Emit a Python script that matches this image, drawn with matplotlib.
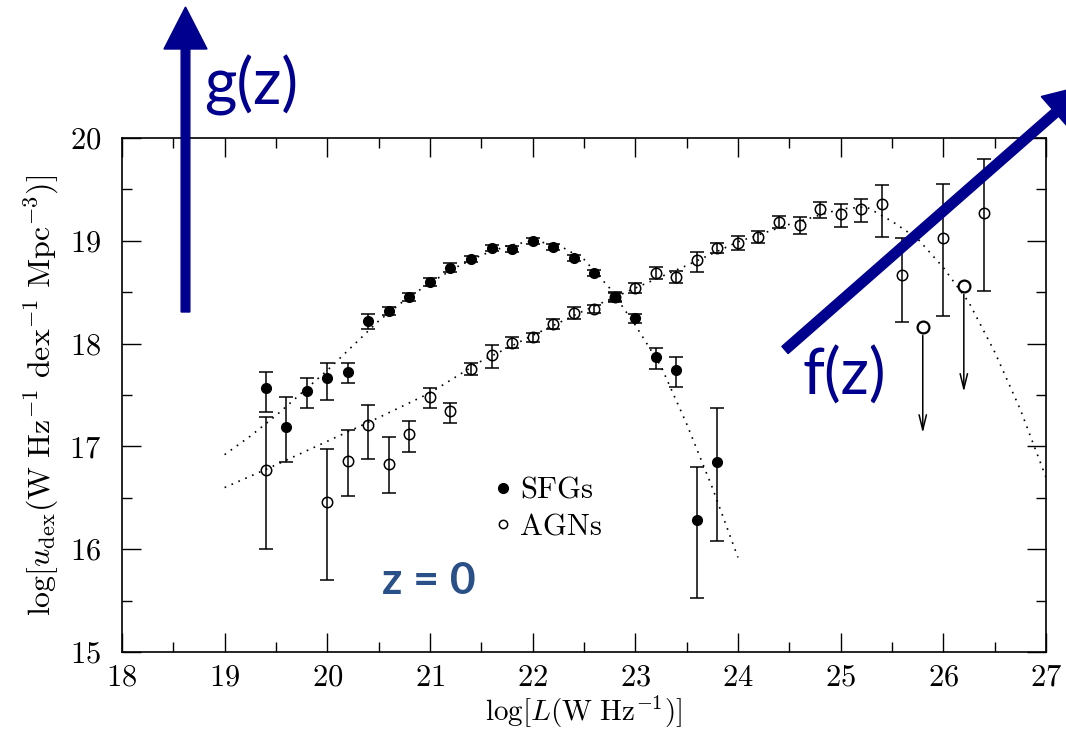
import matplotlib
matplotlib.use("Agg")
import matplotlib.pyplot as plt
from matplotlib.lines import Line2D
from matplotlib.patches import FancyArrow

# ------------------------------------------------------
# Local radio luminosity densities (z = 0)
# ------------------------------------------------------

# star-forming galaxies
sfg_x = [19.4, 19.6, 19.8, 20.0, 20.2, 20.4, 20.6, 20.8, 21.0, 21.2, 21.4, 21.6,
         21.8, 22.0, 22.2, 22.4, 22.6, 22.8, 23.0, 23.2, 23.4, 23.6, 23.8]
sfg_y = [17.57, 17.19, 17.54, 17.67, 17.72, 18.22, 18.32, 18.45, 18.60, 18.74, 18.82, 18.93,
         18.92, 19.00, 18.94, 18.83, 18.69, 18.45, 18.25, 17.87, 17.74, 16.28, 16.85]
sfg_lo = [0.24, 0.34, 0.17, 0.22, 0.10, 0.08, 0.04, 0.04, 0.04, 0.04, 0.03, 0.03,
          0.03, 0.03, 0.03, 0.03, 0.03, 0.04, 0.05, 0.12, 0.16, 0.75, 0.77]
sfg_hi = [0.15, 0.29, 0.13, 0.14, 0.09, 0.07, 0.04, 0.04, 0.04, 0.04, 0.03, 0.03,
          0.03, 0.03, 0.03, 0.03, 0.03, 0.04, 0.04, 0.09, 0.13, 0.52, 0.52]

# AGNs
agn_x = [19.4, 20.0, 20.2, 20.4, 20.6, 20.8, 21.0, 21.2, 21.4, 21.6, 21.8, 22.0,
         22.2, 22.4, 22.6, 22.8, 23.0, 23.2, 23.4, 23.6, 23.8, 24.0, 24.2, 24.4,
         24.6, 24.8, 25.0, 25.2, 25.4, 25.6, 26.0, 26.4]
agn_y = [16.77, 16.46, 16.86, 17.21, 16.83, 17.12, 17.48, 17.34, 17.75, 17.89, 18.01, 18.06,
         18.19, 18.30, 18.34, 18.45, 18.54, 18.69, 18.65, 18.81, 18.93, 18.98, 19.04, 19.18,
         19.15, 19.31, 19.26, 19.31, 19.36, 18.67, 19.03, 19.27]
agn_lo = [0.77, 0.76, 0.34, 0.33, 0.28, 0.17, 0.11, 0.11, 0.06, 0.13, 0.05, 0.04,
          0.05, 0.06, 0.04, 0.05, 0.05, 0.06, 0.06, 0.11, 0.05, 0.07, 0.06, 0.06,
          0.08, 0.09, 0.13, 0.13, 0.32, 0.46, 0.76, 0.76]
agn_hi = [0.52, 0.51, 0.30, 0.19, 0.26, 0.13, 0.09, 0.08, 0.06, 0.10, 0.05, 0.04,
          0.05, 0.06, 0.04, 0.05, 0.05, 0.06, 0.06, 0.08, 0.05, 0.07, 0.06, 0.06,
          0.08, 0.07, 0.10, 0.10, 0.18, 0.36, 0.52, 0.53]

# AGN upper limits
lim_x = [25.8, 26.2]
lim_y = [18.16, 18.56]
lim_drop = [1.03, 1.03]

# fitted luminosity functions (dotted)
sfg_fit_x = [19.0, 19.25, 19.5, 19.75, 20.0, 20.25, 20.5, 20.75, 21.0, 21.25, 21.5,
             21.75, 22.0, 22.25, 22.5, 22.75, 23.0, 23.25, 23.5, 23.75, 24.0]
sfg_fit_y = [16.92, 17.10, 17.30, 17.52, 17.74, 17.98, 18.22, 18.42, 18.59, 18.74, 18.86,
             18.95, 19.00, 18.96, 18.82, 18.54, 18.18, 17.78, 17.22, 16.60, 15.92]

agn_fit_x = [19.0, 19.5, 20.0, 20.5, 21.0, 21.5, 22.0, 22.5, 23.0, 23.5, 24.0, 24.5,
             25.0, 25.25, 25.5, 25.75, 26.0, 26.25, 26.5, 26.75, 27.0]
agn_fit_y = [16.60, 16.82, 17.05, 17.28, 17.52, 17.83, 18.08, 18.32, 18.54, 18.76, 18.99, 19.16,
             19.31, 19.33, 19.19, 19.02, 18.74, 18.40, 17.92, 17.36, 16.70]

x_ticks = [18, 19, 20, 21, 22, 23, 24, 25, 26, 27]
y_ticks = [15, 16, 17, 18, 19, 20]

navy = "#00008e"

# ------------------------------------------------------
# Style
# ------------------------------------------------------

plt.rcParams["font.family"] = "serif"
plt.rcParams["font.serif"] = ["cmr10"]
plt.rcParams["mathtext.fontset"] = "cm"
plt.rcParams["axes.formatter.use_mathtext"] = True

fig = plt.figure(figsize=(10.66, 7.4), dpi=100)
ax = fig.add_axes([0.1144, 0.1189, 0.8668, 0.6946])

# ------------------------------------------------------
# Data points
# ------------------------------------------------------

ax.plot(sfg_fit_x, sfg_fit_y, color="black", lw=1.2, ls=(0, (1, 3.5)))
ax.plot(agn_fit_x, agn_fit_y, color="black", lw=1.2, ls=(0, (1, 3.5)))

ax.errorbar(sfg_x, sfg_y, yerr=[sfg_lo, sfg_hi], fmt="o", color="black",
            ms=7, elinewidth=1.1, capsize=5, capthick=1.1)

ax.errorbar(agn_x, agn_y, yerr=[agn_lo, agn_hi], fmt="o", color="black",
            mfc="none", mec="black", mew=1.1,
            ms=7.5, elinewidth=1.1, capsize=5, capthick=1.1)

ax.plot(lim_x, lim_y, "o", mfc="white", mec="black", mew=1.6, ms=8.5, zorder=4)
for x, y, d in zip(lim_x, lim_y, lim_drop):
    ax.annotate("", xy=(x, y - d), xytext=(x, y),
                arrowprops=dict(arrowstyle="->,head_length=0.9,head_width=0.22",
                                lw=1.1, color="black", shrinkA=6, shrinkB=0,
                                mutation_scale=12))

# ------------------------------------------------------
# Legend
# ------------------------------------------------------

handles = [
    Line2D([], [], marker="o", ls="none", color="black", ms=7),
    Line2D([], [], marker="o", ls="none", mfc="none", mec="black", mew=1.1, ms=6),
]
ax.legend(handles, ["SFGs", "AGNs"], loc="upper left", bbox_to_anchor=(0.386, 0.37),
          frameon=False, fontsize=22, handlelength=0.6, handletextpad=0.25,
          labelspacing=0.3, borderpad=0)

ax.text(20.99, 15.69, "z = 0", color="#2a5088", fontsize=32, family="Lato",
        fontweight="bold", ha="center", va="center")

# ------------------------------------------------------
# Axes
# ------------------------------------------------------

ax.set_xlim(18, 27)
ax.set_ylim(15, 20)
ax.set_xticks(x_ticks)
ax.set_yticks(y_ticks)
ax.set_xticks([t + 0.5 for t in x_ticks[:-1]], minor=True)
ax.set_yticks([t + 0.5 for t in y_ticks[:-1]], minor=True)
ax.tick_params(which="both", direction="in", top=True, right=True, width=1.0)
ax.tick_params(which="major", length=13.5, labelsize=22)
ax.tick_params(axis="x", which="major", pad=9)
ax.tick_params(axis="y", which="major", pad=15)
ax.tick_params(which="minor", length=7)
for spine in ax.spines.values():
    spine.set_linewidth(1.2)

ax.set_xlabel(r"$\log[L(\mathrm{W\ Hz^{-1}})]$", fontsize=21, labelpad=1)
ax.set_ylabel(r"$\log[u_{\mathrm{dex}}(\mathrm{W\ Hz^{-1}\ dex^{-1}\ Mpc^{-3}})]$",
              fontsize=23, labelpad=6)

# ------------------------------------------------------
# Evolution arrows
# ------------------------------------------------------

g_arrow = FancyArrow(1.855, 4.28, 0.0, 3.05, width=0.087, head_width=0.43,
                     head_length=0.42, length_includes_head=True,
                     color=navy, transform=fig.dpi_scale_trans, clip_on=False)
f_arrow = FancyArrow(7.85, 3.90, 3.02, 2.65, width=0.095, head_width=0.43,
                     head_length=0.42, length_includes_head=True,
                     color=navy, transform=fig.dpi_scale_trans, clip_on=False)
fig.add_artist(g_arrow)
fig.add_artist(f_arrow)

fig.text(0.2355, 0.885, "g(z)", color=navy, fontsize=45, family="Lato",
         ha="center", va="center")
fig.text(0.792, 0.492, "f(z)", color=navy, fontsize=45, family="Lato",
         ha="center", va="center")

fig.savefig("out.png", dpi=100)
